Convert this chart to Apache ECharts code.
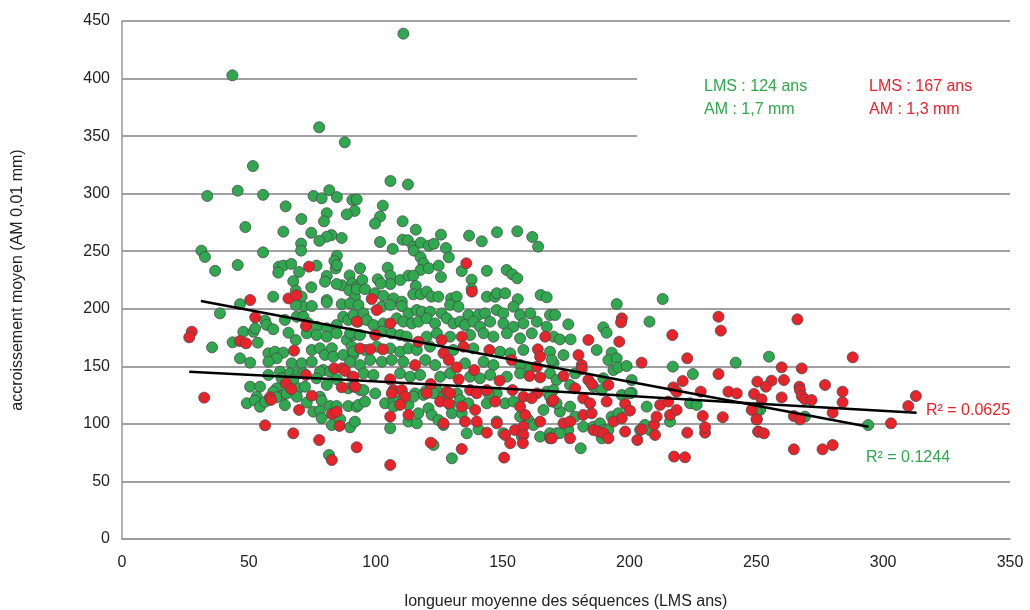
<!DOCTYPE html>
<html>
<head>
<meta charset="utf-8">
<script src="https://cdn.jsdelivr.net/npm/echarts@6/dist/echarts.min.js"></script>
<style>
  html, body { margin: 0; padding: 0; background: #fff; }
  #main { width: 1030px; height: 610px; }
</style>
</head>
<body>
<div id="main"></div>
<script>
// points [LMS ans, AM 0,01 mm]
var greenPts = [
  [110.9,439],[43.5,402.8],[77.7,357.7],[87.8,344.6],
  [51.6,324],[33.6,298],[45.6,302.6],[55.6,299],[75.5,298],[78.7,296],[81.7,303],[84.7,297],[90.8,294.5],[92.5,295],
  [64.5,289],[80.7,283],[91.7,285],[88.6,282],[70.7,278],[79.6,276],[48.6,271],[63.6,267],[74.6,266],[82.6,264],
  [80.7,262.6],[77.8,259],[86.6,261.5],[31.3,250.5],[32.7,245],[55.6,249],[70.6,256.6],[70.6,250.5],[84.7,246],
  [36.7,233],[45.6,238],[61.8,236.6],[63.6,237.5],[61.6,231.4],[66.7,239],[76.7,237.5],[83.7,241.5],[84.2,235],
  [84.7,238],[69.8,232],[67.5,224],[80.7,228.5],[80,223.5],[89.7,229],[86.7,220.4],[84.6,221.5],[90.7,222],
  [74.6,218.7],[68.5,215.8],[89.6,216],[92.5,219],[59.6,210.5],[70.8,210.5],[80.7,207.6],[91.8,210],
  [105.8,311],[112.7,308],[102.8,289.6],[101.7,280],[99.7,274],[110.6,276],[115.8,268.7],[125.7,264.4],[136.8,263.5],
  [141.8,258.6],[147.8,266.5],[155.8,267.3],[161.7,262.4],[164,254],[101.7,258],[106.7,252],[110.6,260],[112.7,259.5],
  [114.8,254],[115,250.5],[117.7,257.4],[120.9,254.8],[122.9,256.5],[127.7,252.8],[128.8,244.7],[117.7,244.7],
  [118.8,239.5],[117.7,233.7],[120.9,235.2],[124.8,237.5],[125.7,227.6],[133.9,232.8],[137.8,225.3],[137.8,217.2],
  [143.8,233],[151.6,233.7],[153.8,230],[155.8,226.5],[93.8,235.2],[104.7,235.7],[105.8,228.8],[105.8,221.5],
  [94.7,225],[100.8,225.6],[102,222],[109.7,225],[112.9,228.8],[114.8,228.8],[115.8,219.8],[92.5,217],[95.8,217],
  [99.7,213.5],[103,211.4],[114.8,212.6],[117.7,212.6],[120.1,214.9],[122,210.5],[124.7,210.5],[129.7,209],
  [131.9,210.5],[143.8,210.5],[147,210.5],[147.7,213.5],[151,213.5],[156,208.3],[165,212],[167.4,210],
  [213.1,208.5],
  [46.5,204],[38.6,196],[71.5,201.8],[74.8,202.4],[68.5,203.3],[80.7,205.6],[86.6,204],
  [56.4,189.7],[57,186],[59.6,182.2],[64.2,190.3],[68.9,193.1],[71.5,193.1],[73.4,187.4],[76.7,184.4],[80.7,183],
  [84.6,185.9],[87.2,193.1],[89.2,190.3],[91.2,194.6],[93.1,188.8],[47.8,180],[51.8,180],[52.5,183],[43.6,170.9],
  [53.5,170.6],[35.5,166.5],[68.5,172.9],[72.8,178.7],[65.6,179.2],[76.7,177.2],[80.7,175.8],[84.6,178.7],
  [88.6,172.9],[91.2,177.2],[57.7,161.3],[60.3,162.7],[63.6,161.9],[61,157],[57.7,154],[46.5,157],[50.5,153.2],
  [66.9,152.6],[70.8,152.6],[74.8,164.2],[78,165.7],[80,159.9],[82.7,165.7],[83.3,158.4],[87.2,159.9],[90.5,167.1],
  [91.2,159.9],[74.8,154],[79.3,146.8],[57.7,142.5],[62.3,145.4],[66.2,144],[69.5,144],[71.5,144],[78,145.4],
  [82,145.4],[62.9,139.6],[67.5,138.1],[76.7,139.6],[84.6,138.8],[50.5,132.3],[54.4,132.3],[61,130.9],[69.5,130.9],
  [72.1,132.3],[80.7,133.8],[89.2,130.9],[93.8,129.5],[53.1,123.6],[63.6,125.1],[68.9,123.6],[78,123.6],
  [49.2,117.9],[52.4,120.2],[54.4,114.9],[56.4,119.2],[59.6,127.9],[60.9,123],[64.2,116.3],[64.9,126.4],[72.8,118.5],
  [75.4,110.6],[78,111.4],[78.7,120.2],[78.7,104.9],[82,115.5],[82.7,99],[84.6,115.5],[86,104],[89.2,115.5],
  [89.9,97],[91.8,101.9],[92.5,114.9],[81.6,73],
  [107,209],[110.3,206.2],[89.9,204.7],[93.2,203.3],[95.2,196],[102.4,201.8],[105.7,203.3],[110.3,202.3],[112.9,196],
  [116.2,198.9],[118.2,197.5],[121.4,197.5],[126,196],[129.3,203.3],[132.6,201.8],[136.5,194.6],[140.5,194.6],
  [143.1,196],[147.7,198.9],[150.3,196],[154.3,201.8],[156.9,194.6],[160.9,196],[168.7,194.6],[170.7,194.6],
  [96.5,190.2],[99.1,185.9],[103,187.3],[108.3,191.7],[110.9,188.8],[114.2,187.3],[116.8,188.8],[120.1,191.7],
  [123.4,187.3],[128,191.7],[130.6,187.3],[133.3,188.8],[135.2,185.9],[138.5,188.8],[141.1,184.4],[145.1,188.8],
  [150.3,187.3],[154.3,184.4],[158.2,187.3],[163.5,188.8],[167.4,184.4],
  [89.9,178.7],[93.8,177.2],[102.4,180.1],[106.3,178.7],[109.6,177.2],[112.2,175.8],[120.1,175.8],[124.1,178.7],
  [129.3,175.8],[137.2,177.2],[142.5,178.7],[146.4,175.8],[151.7,178.7],[156.9,174.3],[161.5,178.7],[170.1,175.8],
  [91.2,162.7],[95.8,164.2],[100.4,167.1],[105.7,165.6],[109.6,162.7],[112.9,165.6],[116.2,164.2],[121.4,167.1],
  [130.6,164.2],[138.5,165.6],[149,162.7],[153,161.3],[158.2,164.2],[168.7,162.7],
  [89.9,154],[93.8,151.1],[97.8,155.5],[102.4,154],[106.3,155.5],[110.9,154],[119.5,155.5],[123.4,151.1],[135.2,152.6],
  [142.5,154],[146.4,151.1],[156.9,151.1],[160.9,148.2],[170.1,152.6],
  [95.2,143.9],[99.1,142.5],[109.6,143.9],[113.6,141],[117.5,142.5],[125.4,141],[129.3,143.9],[137.2,141],[141.1,139.6],
  [145.1,142.5],[151.7,141],[156.9,143.9],[168.7,143.9],
  [95.2,129.4],[99.8,126.5],[115.5,126.5],[119.5,128],[124.1,129.4],[132,126.5],[139.8,128],[147.7,126.5],[167.4,128],
  [93.2,116.5],[95.8,119.4],[103.7,117.9],[107,120.8],[110.9,123.7],[118.8,125.2],[107,115],[112.9,102],[116.2,100.5],
  [116.8,109.2],[120.8,113.6],[122.1,107.8],[124.7,103.4],[126.7,99],[129.3,116.5],[130,109.2],[133.3,120.8],
  [133.9,109.2],[135.9,91.8],[136.5,117.9],[140.5,95.3],[143.8,117.9],[144.4,126.6],[147.7,102],[151,117.9],
  [154.3,119.4],[156.9,106.3],[160.2,103.4],[162.2,99.1],[164.8,88.9],[166.1,112.1],[168.7,91.9],[171.4,91.9],
  [157.6,88.9],[105.7,96.2],[122.8,81.7],[130,70.1],[150.3,91.9],[122.8,126.6],[126.7,123.7],[112.9,116.5],[114.9,123.7],
  [195,204.1],[175.9,186.5],[207.9,188.8],[189.7,183.9],[191,179.2],[172.6,173.4],[176.8,173.4],[187.1,164.2],
  [174,159.8],[193,161.9],[191.7,155.5],[195,156.9],[193.7,146.8],[195.6,149.1],[198.9,150.3],[169.4,155.5],
  [217.1,149.7],[225,143.3],[241.9,153.2],[200.9,138.1],[189.7,139.6],[178.6,143.9],[176.6,133.8],[171.3,138.1],
  [185.8,132.3],[200.9,127.1],[197,125.1],[170,129.4],[189.1,129.4],
  [172.6,110.7],[171.3,117.9],[176.6,115],[175.9,94.7],[178.6,106.3],[181.8,97.6],[185.8,97.6],[188.4,100.5],
  [189.7,94.7],[191.7,94.7],[189.1,87.5],[193,106.3],[195.6,109.2],[200.2,126.6],[204.2,94.7],[206.1,99.1],
  [206.8,115],[208.1,94.7],[216,102],[223.9,117.9],[226.5,116.5],[180.8,78.8],[172.6,91.9],[168.7,123.7],[251.5,112.1],
  [255,158.4],[269.2,106.3],[250.1,110.6],[294.1,99]
];

var redPts = [
  [73.7,236.6],[50.5,207.6],[65.6,209],[68.6,211.7],[135.7,239.5],[98.4,208.5],
  [52.5,192.6],[72.5,185],[27.5,180.1],[26.5,175.2],[46.5,172],[48.9,170],[67.8,163.6],[83.6,148.3],[86.8,148.3],
  [87.9,146],[90.9,140.5],[72.5,142.5],[64.6,135.3],[66.7,130.3],[74.8,124.5],[86.6,131.8],[91.4,132.3],[32.4,122.8],
  [58.3,123.1],
  [58.7,120.8],[69.8,112.1],[82.7,108.6],[84.6,110.6],[85.7,98.2],[56.4,98.8],[67.5,91.8],[77.7,86],[82.7,68.6],[92.5,79.7],
  [137.9,214.9],[100.4,198.9],[92.5,188.8],[105.7,187.3],[99.8,177.2],[116.8,171.4],[126,172.9],[133.9,175.8],
  [166.8,175.8],[93.8,165.6],[97.8,164.8],[102.8,164.8],[126.7,161.3],[134.6,167.1],[144.8,164.2],[163.9,164.8],
  [164.8,158.4],[115.5,151.1],[128.8,155.5],[131.9,149.1],[138.8,146.8],[153.6,155.5],[163.5,149.7],[91.2,141],
  [105.7,138.7],[121.7,134.6],[132.7,138.7],[148.8,137.5],[160.6,141.6],[164.8,140.4],[91.9,132.3],[107,129.4],
  [110.3,129.4],[111.6,123.6],[128,128],[137.2,129.4],[143.8,129.4],[153.9,129.4],[158.2,123.6],[163.5,126.5],
  [105.7,64.3],[106.3,126.6],[109.6,116.5],[112.9,107.8],[105.7,106.3],[120.1,126.6],[125.4,119.4],[128.7,117.9],
  [126.7,100.5],[133.9,115],[139.8,102],[139.2,112.1],[135.2,102],[139.8,126.6],[147.1,119.4],[143.8,92.4],
  [147.7,100.5],[151,90.4],[153,83.2],[154.9,94.7],[156.9,115],[158.9,107.8],[158.2,97.6],[158.2,90.4],[158,83.2],
  [161.5,122.3],[164.8,102],[168.7,87.5],[169.4,119.4],[121.7,83.7],[133.9,78.2],[150.6,70.7],[129.3,126.6],
  [197,191.7],[196.7,188.2],[235.1,193.1],[236,181],[216.9,177.2],[183.8,172.9],[196,171.4],[179.9,159.8],
  [204.8,153.2],[222.8,157],[181.2,151.1],[181.2,147.4],[235.1,143.3],[221,137.2],[174,141.6],[183.8,138.1],
  [185.1,134.6],[178.6,130.9],[191.7,133.8],[217.3,131.7],[218.6,128],[228.1,128],[239,128],[242.3,126.5],
  [249.1,126],[250.4,136.7],[181.8,122.2],
  [170,120.8],[174,100.5],[176.6,102],[176.6,87.5],[181.8,107.8],[184.5,117.9],[185.1,109.2],[185.8,94.7],
  [187.8,93.3],[189.7,91.9],[191.7,87.5],[191,119.4],[193.7,102],[197,104.9],[198.3,117.3],[200.2,111.5],
  [198.3,93.3],[203.1,86],[204.8,95.3],[210.1,90.4],[209.7,99.1],[210.7,106.3],[212.1,116.5],[215.3,119.4],
  [216,107.8],[218.6,112.1],[217.6,71.6],[221.9,71],[222.8,92.4],[228.9,106.9],[229.8,92.4],[229.8,97.1],
  [236.8,105.8],[250.2,104],[250.8,93.3],[248.2,112.1],[169.4,87.5],
  [266.2,190.8],[288,157.8],[260,149.1],[267.9,148.2],[256,137.5],[253.8,132.3],[260.9,138.1],[267,132.3],
  [267.2,129.4],[267.9,124.2],[269.2,121.3],[271.8,120.7],[277.1,133.8],[284,128],[284,118.7],[260,123],
  [252.1,121.3],[280.1,109.7],[309.9,115.5],[312.9,124.2],[264.8,106.8],[267.2,103.9],[250.1,103.9],[250.8,93.2],
  [253,91.8],[264.8,77.9],[276.1,77.9],[280.1,81.6],[303.1,100.5]
];

// trend lines
var greenTrend = [[31.1,206.8],[294.2,97.6]];
var redTrend = [[26.5,145.4],[89.9,138.1],[172.6,128],[247.5,117.9],[313.2,109.7]];

var xTicks = { min: 0, max: 350, step: 50 };
var yTicks = { min: 0, max: 450, step: 50 };

var GREEN = '#2fa84f';
var RED = '#e8232a';
var FONT = 'Liberation Sans, Arial, sans-serif';

var chart = echarts.init(document.getElementById('main'));

var option = {
  backgroundColor: '#fff',
  animation: false,
  grid: { left: 122, right: 20, top: 21, bottom: 71, outerBoundsMode: 'none' },
  xAxis: {
    type: 'value',
    min: xTicks.min, max: xTicks.max, interval: xTicks.step,
    name: 'longueur moyenne des séquences (LMS ans)',
    nameLocation: 'middle', nameGap: 55,
    nameTextStyle: { fontFamily: FONT, fontSize: 16, color: '#222' },
    axisLine: { show: true, lineStyle: { color: '#999', width: 1.5 } },
    axisTick: { show: false },
    axisLabel: { fontFamily: FONT, fontSize: 16, color: '#222', margin: 16 },
    splitLine: { show: false }
  },
  yAxis: {
    type: 'value',
    min: yTicks.min, max: yTicks.max, interval: yTicks.step,
    name: 'accroissement moyen (AM 0,01 mm)',
    nameLocation: 'middle', nameGap: 96, nameRotate: 90,
    nameTextStyle: { fontFamily: FONT, fontSize: 16, color: '#222' },
    axisLine: { show: true, lineStyle: { color: '#999', width: 1.5 } },
    axisTick: { show: false },
    axisLabel: { fontFamily: FONT, fontSize: 16, color: '#222', margin: 12 },
    splitLine: { show: true, lineStyle: { color: '#a0a0a0', width: 2 } }
  },
  graphic: [
    // white patch hiding the grid lines behind the text block
    { type: 'rect', left: 637, top: 68, z: 1, shape: { width: 376, height: 78 }, style: { fill: '#fff' } },
    { type: 'text', left: 704, top: 79, z: 10, style: { text: 'LMS : 124 ans', fill: GREEN, font: '16px ' + FONT } },
    { type: 'text', left: 704, top: 102, z: 10, style: { text: 'AM : 1,7 mm', fill: GREEN, font: '16px ' + FONT } },
    { type: 'text', left: 869, top: 79, z: 10, style: { text: 'LMS : 167 ans', fill: RED, font: '16px ' + FONT } },
    { type: 'text', left: 869, top: 102, z: 10, style: { text: 'AM : 1,3 mm', fill: RED, font: '16px ' + FONT } },
    { type: 'text', left: 926, top: 403, z: 10, style: { text: 'R² = 0.0625', fill: RED, font: '16px ' + FONT } },
    { type: 'text', left: 866, top: 450, z: 10, style: { text: 'R² = 0.1244', fill: GREEN, font: '16px ' + FONT } }
  ],
  series: [
    {
      name: 'LMS 124', type: 'scatter', data: greenPts, symbolSize: 11, z: 3,
      itemStyle: { color: GREEN, borderColor: '#4a4a4a', borderWidth: 0.8, opacity: 1 }
    },
    {
      name: 'LMS 167', type: 'scatter', data: redPts, symbolSize: 11, z: 4,
      itemStyle: { color: RED, borderColor: '#4a4a4a', borderWidth: 0.8, opacity: 1 }
    },
    {
      type: 'line', data: greenTrend, symbol: 'none', z: 5,
      lineStyle: { color: '#000', width: 2.5 }
    },
    {
      type: 'line', data: redTrend, symbol: 'none', smooth: true, z: 5,
      lineStyle: { color: '#000', width: 2.5 }
    }
  ]
};

chart.setOption(option);
</script>
</body>
</html>
